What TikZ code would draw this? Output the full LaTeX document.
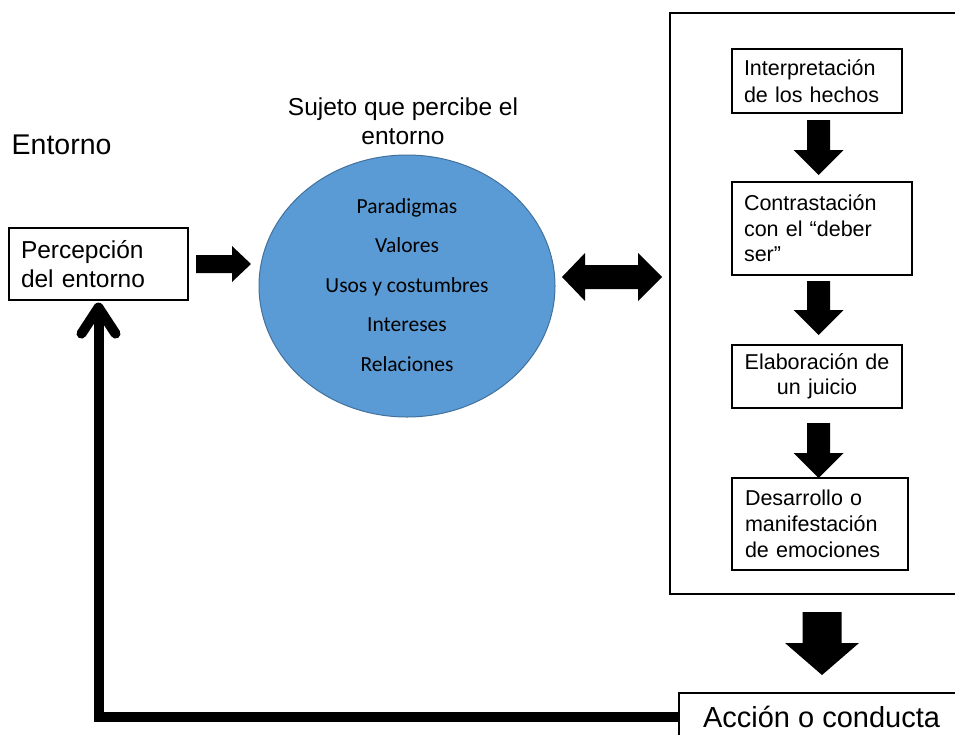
\documentclass[tikz,border=0pt]{standalone}
\usepackage{fontspec}
\setmainfont{Liberation Sans}
\newfontfamily\calibrifont{Carlito}
\usetikzlibrary{shapes.geometric,arrows.meta}
\definecolor{ellfill}{RGB}{91,155,213}
\definecolor{elldraw}{RGB}{65,113,156}
\newcommand{\dnblock}[7]{% cx, ytop, yhead, ytip, shafthalf, headhalf
  \fill (#1-#5,#2) -- (#1+#5,#2) -- (#1+#5,#3) -- (#1+#6,#3) -- (#1,#4) -- (#1-#6,#3) -- (#1-#5,#3) -- cycle;}
\begin{document}
\begin{tikzpicture}[x=1pt,y=-1pt,
  boxst/.style={draw, line width=1.2pt, rectangle, inner sep=0pt},
  blockarrow/.style={fill=black}]
\useasboundingbox (0,0) rectangle (955,734);

% Entorno
\node[anchor=west, inner sep=0pt, font=\fontsize{28.5}{32}\selectfont] (entorno) at (11.5,145) {Entorno};

% Percepcion
\node[boxst, minimum width=179, minimum height=72, text width=155, align=left,
  font=\fontsize{24.5}{29.5}\selectfont] (percep) at (98.5,264) {Percepción\\del entorno};

% right block arrow
\fill (196,255) -- (232,255) -- (232,246) -- (251,264) -- (232,282) -- (232,273) -- (196,273) -- cycle;

% title
\node[align=center, inner sep=0pt, font=\fontsize{24.5}{29}\selectfont] (title) at (403,121) {Sujeto que percibe el\\entorno};

% ellipse
\node[ellipse, draw=elldraw, fill=ellfill, line width=1pt, minimum width=296, minimum height=262, inner sep=0pt] (ell) at (407,286) {};
\node[align=center, inner sep=0pt, font=\calibrifont\fontsize{21.5}{39.5}\selectfont] (elltext) at ([yshift=1pt]ell.center) {Paradigmas\\Valores\\Usos y costumbres\\Intereses\\Relaciones};

% double block arrow
\fill (562,277) -- (585,253) -- (585,265) -- (638,265) -- (638,253) -- (662,277) -- (638,301) -- (638,289) -- (585,289) -- (585,301) -- cycle;

% big container
\draw[line width=1.2pt] (670,13) rectangle (975,594);

% inner boxes
\node[boxst, minimum width=170, minimum height=64, text width=146, align=left,
  font=\fontsize{21.5}{27}\selectfont] (interp) at (817,81) {Interpretación\\de los hechos};
\node[boxst, minimum width=180, minimum height=93, text width=156, align=left,
  font=\fontsize{21.5}{25.5}\selectfont] (contra) at (822,228.5) {Contrastación\\con el “deber\\ser”};
\node[boxst, minimum width=170, minimum height=63, text width=160, align=center,
  font=\fontsize{21.5}{25.5}\selectfont] (elab) at (817,376.5) {Elaboración de\\un juicio};
\node[boxst, minimum width=176, minimum height=92, text width=150, align=left,
  font=\fontsize{21.5}{26}\selectfont] (desa) at (820,524) {Desarrollo o\\manifestación\\de emociones};

% down arrows
\dnblock{818.5}{120}{150}{175}{11.5}{25}{}
\dnblock{818.5}{281}{310}{335}{11.5}{25}{}
\dnblock{818.5}{423}{453}{478}{11.5}{25}{}
\dnblock{822}{612}{643}{675}{19.5}{37}{}

% accion
\node[boxst, minimum width=285, minimum height=47, font=\fontsize{29}{34}\selectfont] (acc) at (821.5,716.5) {Acción o conducta};

% feedback connector
\draw[line width=10pt, -{Straight Barb[length=26pt, width=34pt, round]}] (acc.west) -| ([yshift=-2pt]percep.south);
\end{tikzpicture}
\end{document}
